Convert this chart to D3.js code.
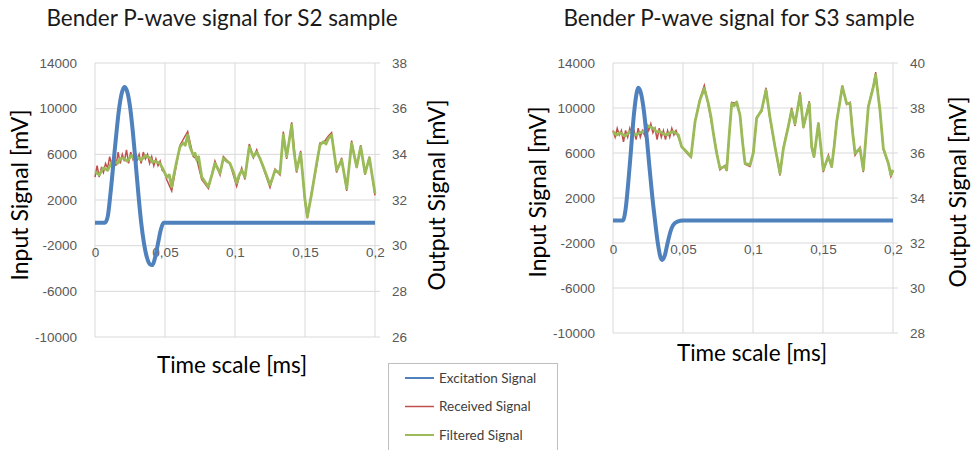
<!DOCTYPE html>
<html>
<head>
<meta charset="utf-8">
<script src="https://cdn.jsdelivr.net/npm/d3@7"></script>
<style>
  body { margin: 0; background: #fff; }
  svg { font-family: Lato, "Open Sans", sans-serif; }
  .tick text { fill: #595959; font-size: 13.5px; }
</style>
</head>
<body>
<div id="chart"></div>
<script>
const width = 974;
const height = 450;

// time ticks [ms]
const timeTicks = [0, 0.05, 0.1, 0.15, 0.2];
const timeTickLabels = ["0", "0,05", "0,1", "0,15", "0,2"];
const inputTicks = [-10000, -6000, -2000, 2000, 6000, 10000, 14000];
const s2OutputTicks = [26, 28, 30, 32, 34, 36, 38];
const s3OutputTicks = [28, 30, 32, 34, 36, 38, 40];

const seriesNames = ["Excitation Signal", "Received Signal", "Filtered Signal"];

// S2 sample: [time ms, value]
const s2Excitation = [[0,0],[0.007,0],[0.009,500],[0.011,2500],[0.013,5000],[0.015,7500],[0.017,9800],[0.019,11300],[0.021,11900],[0.023,11500],[0.025,10200],[0.027,8000],[0.029,5300],[0.031,2500],[0.033,0],[0.035,-1800],[0.037,-3000],[0.039,-3600],[0.041,-3700],[0.043,-3000],[0.045,-1800],[0.047,-600],[0.049,0],[0.2,0]];
const s2Received = [[0,33.0],[0.0015,33.5],[0.003,33.0],[0.0045,33.4],[0.006,33.2],[0.0075,33.6],[0.009,33.4],[0.0105,33.9],[0.012,33.5],[0.0135,33.9],[0.015,33.5],[0.0165,34.1],[0.018,33.6],[0.0195,34.0],[0.021,33.7],[0.0225,34.2],[0.024,33.6],[0.0255,34.1],[0.027,33.8],[0.0285,34.2],[0.030,33.7],[0.0315,34.0],[0.033,33.6],[0.0345,34.1],[0.036,33.8],[0.0375,34.0],[0.039,33.6],[0.0405,33.9],[0.042,33.5],[0.0435,33.8],[0.045,33.5],[0.0465,33.7],[0.048,33.3],[0.050,33.2],[0.0512,32.9],[0.0548,32.4],[0.0607,34.4],[0.0662,35.0],[0.0702,33.9],[0.0726,33.8],[0.0762,32.9],[0.081,32.5],[0.0857,33.7],[0.0893,33.1],[0.0917,33.9],[0.0964,33.6],[0.1012,32.6],[0.1048,33.4],[0.1071,32.9],[0.1102,34.45],[0.1131,33.85],[0.1155,34.2],[0.1202,33.4],[0.125,32.55],[0.1286,33.35],[0.1321,33.1],[0.1345,35.0],[0.1369,33.8],[0.1405,35.4],[0.144,33.2],[0.1469,34.15],[0.15,31.9],[0.1517,31.2],[0.1548,32.4],[0.1583,33.5],[0.1607,34.5],[0.1631,34.5],[0.1667,34.8],[0.169,34.95],[0.1726,33.2],[0.1762,33.85],[0.1798,32.4],[0.1833,34.6],[0.1869,33.4],[0.1898,34.4],[0.1929,33.1],[0.196,33.9],[0.2,32.2]];
const s2Filtered = [[0,33.24],[0.003,33.1],[0.006,33.4],[0.009,33.3],[0.011,33.55],[0.0131,33.75],[0.016,33.6],[0.018,33.8],[0.0202,33.84],[0.023,33.7],[0.026,33.95],[0.028,33.8],[0.0298,33.9],[0.033,33.75],[0.036,33.95],[0.0393,33.84],[0.041,33.65],[0.043,33.7],[0.0464,33.6],[0.049,33.3],[0.0512,33.0],[0.053,33.1],[0.0548,32.58],[0.056,33.0],[0.058,33.6],[0.0607,34.33],[0.063,34.5],[0.0645,34.4],[0.0662,34.85],[0.068,34.3],[0.0702,33.97],[0.0715,34.05],[0.0726,33.75],[0.074,33.9],[0.0762,33.02],[0.0785,32.8],[0.081,32.58],[0.0835,33.1],[0.0857,33.6],[0.0875,33.4],[0.0893,33.17],[0.0917,33.83],[0.094,33.7],[0.0964,33.6],[0.099,33.2],[0.1012,32.74],[0.103,33.1],[0.1048,33.3],[0.1071,33.0],[0.1085,33.6],[0.1102,34.33],[0.1131,33.9],[0.1155,34.1],[0.118,33.8],[0.1202,33.46],[0.123,33.0],[0.125,32.66],[0.127,33.0],[0.1286,33.3],[0.1321,33.17],[0.1345,34.85],[0.1369,33.9],[0.1405,35.28],[0.142,34.2],[0.144,33.3],[0.1469,34.04],[0.15,32.0],[0.1517,31.27],[0.1548,32.3],[0.1583,33.6],[0.1607,34.41],[0.1631,34.55],[0.165,34.45],[0.1667,34.7],[0.169,34.85],[0.1726,33.3],[0.1762,33.75],[0.1798,32.5],[0.1833,34.48],[0.1869,33.46],[0.1898,34.33],[0.1929,33.17],[0.196,33.84],[0.2,32.29]];

// S3 sample: [time ms, value]
const s3Excitation = [[0,0],[0.007,0],[0.009,1000],[0.011,3500],[0.013,6500],[0.015,9500],[0.017,11400],[0.018,11800],[0.020,11300],[0.022,9800],[0.024,7500],[0.026,4800],[0.028,2200],[0.030,0],[0.032,-2000],[0.034,-3300],[0.035,-3500],[0.037,-3100],[0.039,-2000],[0.041,-1000],[0.043,-400],[0.046,-100],[0.05,0],[0.2,0]];
const s3Received = [[0,37.0],[0.0015,36.7],[0.003,37.1],[0.0045,36.8],[0.006,37.0],[0.0075,36.5],[0.009,37.0],[0.0105,36.7],[0.012,37.1],[0.0135,36.8],[0.015,37.0],[0.0165,36.6],[0.018,37.1],[0.0195,36.7],[0.021,37.0],[0.0225,36.8],[0.024,37.3],[0.0255,37.0],[0.027,37.3],[0.0285,36.9],[0.030,37.1],[0.0315,36.6],[0.033,37.1],[0.0345,36.7],[0.036,37.0],[0.0375,36.6],[0.039,37.0],[0.0405,36.7],[0.042,37.1],[0.0435,36.8],[0.045,37.0],[0.0467,36.7],[0.049,36.3],[0.0526,36.0],[0.0557,35.8],[0.0586,37.4],[0.0621,38.4],[0.0652,39.0],[0.0681,38.1],[0.0717,36.9],[0.0764,35.25],[0.08,35.45],[0.0812,35.2],[0.0848,38.25],[0.0883,38.2],[0.0907,37.7],[0.0943,35.5],[0.0979,35.4],[0.1002,36.0],[0.1026,37.6],[0.1062,37.85],[0.1093,38.9],[0.1121,37.5],[0.1157,36.3],[0.1193,35.0],[0.1217,36.25],[0.1252,37.2],[0.1276,38.0],[0.13,37.2],[0.1336,38.7],[0.136,37.1],[0.1402,38.3],[0.1419,36.2],[0.1436,35.8],[0.1467,37.35],[0.1502,35.15],[0.1538,35.9],[0.1562,35.35],[0.1598,37.45],[0.1638,39.0],[0.1669,38.15],[0.1693,38.25],[0.1729,35.9],[0.1764,36.25],[0.1788,35.15],[0.1824,38.1],[0.186,39.0],[0.1876,39.6],[0.1907,37.85],[0.1931,36.15],[0.1967,35.5],[0.1985,34.95],[0.2,35.2]];
const s3Filtered = [[0,36.95],[0.0025,36.8],[0.005,36.9],[0.0086,36.75],[0.0121,36.95],[0.0145,36.85],[0.0169,36.8],[0.019,36.9],[0.0217,36.95],[0.0252,37.2],[0.0288,37.1],[0.031,36.95],[0.0336,36.95],[0.036,36.85],[0.0383,36.8],[0.0405,36.9],[0.0431,36.95],[0.0467,36.8],[0.049,36.28],[0.0526,36.06],[0.0557,35.84],[0.0586,37.39],[0.0621,38.36],[0.0652,38.87],[0.0681,38.2],[0.07,37.6],[0.0717,36.87],[0.074,36.0],[0.0764,35.32],[0.08,35.4],[0.0812,35.25],[0.083,36.8],[0.0848,38.2],[0.0865,38.1],[0.0883,38.27],[0.0907,37.69],[0.0925,36.5],[0.0943,35.54],[0.0979,35.47],[0.1002,35.99],[0.1026,37.54],[0.1062,37.91],[0.1093,38.8],[0.1121,37.6],[0.1157,36.28],[0.1193,35.1],[0.1217,36.2],[0.1252,37.17],[0.1276,37.9],[0.13,37.3],[0.1336,38.58],[0.136,37.17],[0.1402,38.2],[0.1419,36.28],[0.1436,35.84],[0.1467,37.3],[0.1502,35.25],[0.1538,35.84],[0.1562,35.4],[0.158,36.3],[0.1598,37.4],[0.1638,38.95],[0.1669,38.2],[0.1693,38.2],[0.171,37.0],[0.1729,35.99],[0.1764,36.2],[0.1788,35.25],[0.1805,36.6],[0.1824,38.06],[0.186,38.95],[0.1876,39.47],[0.1907,37.9],[0.1931,36.2],[0.1967,35.54],[0.1985,35.02],[0.2,35.25]];

const colors = ["#4f81bd", "#c0504d", "#9bbb59"];

const svg = d3.select("#chart")
              .append("svg")
              .attr("width", width)
              .attr("height", height);

function drawChart(cfg) {
    const x = d3.scaleLinear().domain([0, 0.2]).range([cfg.left, cfg.right]);
    const yIn = d3.scaleLinear().domain([-10000, 14000]).range([cfg.bottom, cfg.top]);
    const yOut = d3.scaleLinear().domain(cfg.outDomain).range([cfg.bottom, cfg.top]);
    const g = svg.append("g");

    // gridlines
    g.selectAll(".hgrid").data(inputTicks).enter().append("line")
        .attr("x1", cfg.left).attr("x2", cfg.right + 5)
        .attr("y1", d => yIn(d)).attr("y2", d => yIn(d))
        .attr("stroke", "#d9d9d9").attr("stroke-width", 1);
    g.selectAll(".vgrid").data(timeTicks).enter().append("line")
        .attr("x1", d => x(d)).attr("x2", d => x(d))
        .attr("y1", cfg.top).attr("y2", cfg.bottom)
        .attr("stroke", "#d9d9d9").attr("stroke-width", 1);

    // axes (labels only)
    const leftAxis = d3.axisLeft(yIn).tickValues(inputTicks).tickFormat(d => String(d))
        .tickSize(0).tickPadding(18);
    g.append("g").attr("transform", `translate(${cfg.left},0)`).call(leftAxis)
        .call(a => a.select(".domain").remove());
    const rightAxis = d3.axisRight(yOut).tickValues(cfg.outTicks).tickFormat(d => String(d))
        .tickSize(0).tickPadding(17);
    g.append("g").attr("transform", `translate(${cfg.right},0)`).call(rightAxis)
        .call(a => a.select(".domain").remove());
    const xAxis = d3.axisBottom(x).tickValues(timeTicks).tickFormat((d, i) => timeTickLabels[i]).tickSize(0).tickPadding(0);
    g.append("g").attr("transform", `translate(0,${cfg.xLabelY})`).call(xAxis)
        .call(a => a.select(".domain").remove());

    const lineIn = d3.line().x(d => x(d[0])).y(d => yIn(d[1])).curve(d3.curveMonotoneX);
    const lineOut = d3.line().x(d => x(d[0])).y(d => yOut(d[1]));

    g.append("path").datum(cfg.received).attr("d", lineOut)
        .attr("fill", "none").attr("stroke", colors[1]).attr("stroke-width", 1.5);
    g.append("path").datum(cfg.filtered).attr("d", lineOut)
        .attr("fill", "none").attr("stroke", colors[2]).attr("stroke-width", 2.8)
        .attr("stroke-linejoin", "round");
    g.append("path").datum(cfg.excitation).attr("d", lineIn)
        .attr("fill", "none").attr("stroke", colors[0]).attr("stroke-width", 4)
        .attr("stroke-linejoin", "round");

    // titles
    g.append("text").attr("x", cfg.titleX).attr("y", 26).attr("text-anchor", "middle")
        .attr("font-size", 22.5).attr("fill", "#1a1a1a").text(cfg.title);
    g.append("text").attr("x", cfg.timeX).attr("y", cfg.timeY).attr("text-anchor", "middle")
        .attr("font-size", 22.5).attr("fill", "#000").text("Time scale [ms]");
    g.append("text").attr("transform", `translate(${cfg.inX},${cfg.labelCy}) rotate(-90)`)
        .attr("text-anchor", "middle").attr("dy", "0.35em")
        .attr("font-size", 23).attr("fill", "#000").text("Input Signal [mV]");
    g.append("text").attr("transform", `translate(${cfg.outX},${cfg.labelCy}) rotate(-90)`)
        .attr("text-anchor", "middle").attr("dy", "0.35em")
        .attr("font-size", 23).attr("fill", "#000").text("Output Signal [mV]");
}

drawChart({
    left: 95, right: 375, top: 63, bottom: 337, xLabelY: 247,
    outDomain: [26, 38], outTicks: s2OutputTicks,
    excitation: s2Excitation, received: s2Received, filtered: s2Filtered,
    title: "Bender P-wave signal for S2 sample", titleX: 222,
    timeX: 232, timeY: 373, inX: 20, outX: 437, labelCy: 195
});

drawChart({
    left: 613, right: 893, top: 63, bottom: 333, xLabelY: 244,
    outDomain: [28, 40], outTicks: s3OutputTicks,
    excitation: s3Excitation, received: s3Received, filtered: s3Filtered,
    title: "Bender P-wave signal for S3 sample", titleX: 739,
    timeX: 752, timeY: 361, inX: 538, outX: 958, labelCy: 192
});

// legend
const legend = svg.append("g");
legend.append("rect").attr("x", 388.5).attr("y", 363.5).attr("width", 169).attr("height", 100)
    .attr("fill", "#fff").attr("stroke", "#bfbfbf");
const items = legend.selectAll(".item").data(seriesNames).enter().append("g")
    .attr("transform", (d, i) => `translate(0,${378 + i * 28.5})`);
items.append("line").attr("x1", 405).attr("x2", 434).attr("y1", 0).attr("y2", 0)
    .attr("stroke", (d, i) => colors[i]).attr("stroke-width", (d, i) => i === 1 ? 1.5 : 2);
items.append("text").attr("x", 439).attr("dy", "0.35em").attr("font-size", 13.5)
    .attr("fill", "#404040").text(d => d);
</script>
</body>
</html>
